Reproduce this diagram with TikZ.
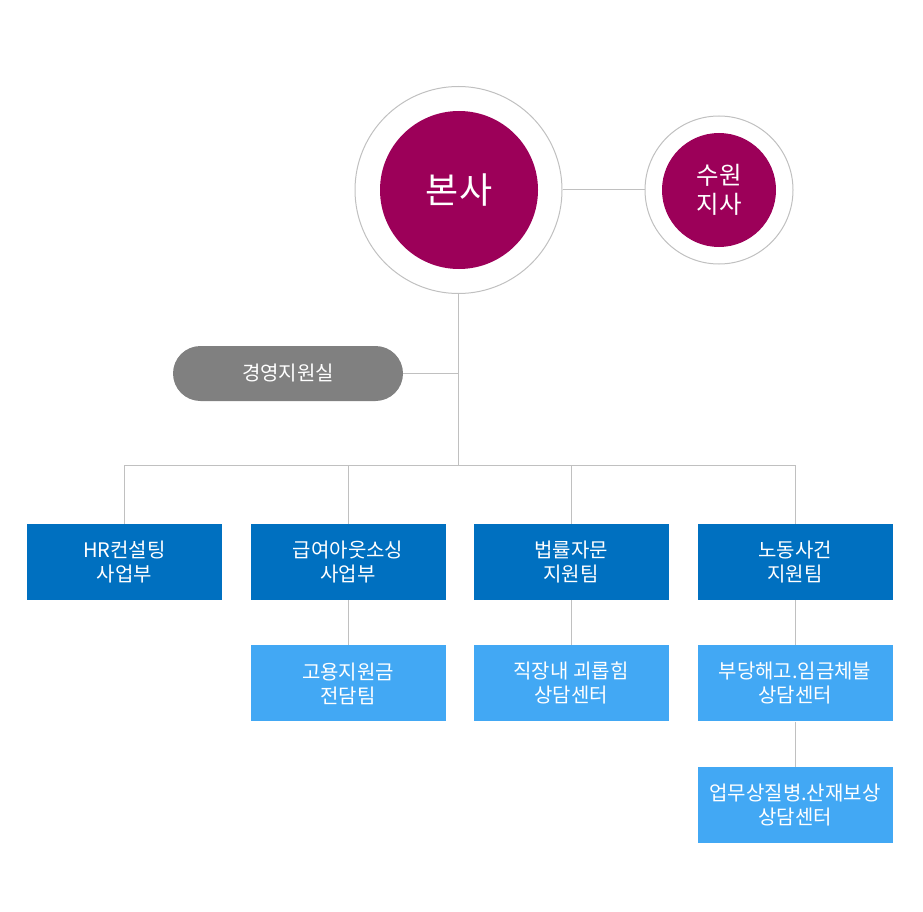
\documentclass[tikz,border=0pt]{standalone}
\usepackage{fontspec}
\setmainfont{Noto Sans CJK KR}
\usetikzlibrary{positioning}
\definecolor{hqred}{HTML}{9C0059}
\definecolor{deptblue}{HTML}{0070C0}
\definecolor{teamblue}{HTML}{42A8F4}
\definecolor{mgmtgray}{HTML}{808080}
\definecolor{linegray}{HTML}{C0C0C0}
\tikzset{
  ring/.style={circle,draw=linegray,line width=1pt,inner sep=0pt},
  disc/.style={circle,fill=hqred,text=white,inner sep=0pt,align=center},
  dept/.style={fill=deptblue,text=white,minimum width=195pt,minimum height=76pt,
    inner sep=0pt,align=center,font=\fontsize{20}{24}\selectfont},
  team/.style={dept,fill=teamblue},
  conn/.style={draw=linegray,line width=1pt}
}
\begin{document}
\begin{tikzpicture}[x=1pt,y=-1pt]
		\useasboundingbox (0,0) rectangle (923,912);
		% head office and branch
		\node[ring,minimum size=207pt] (HQring) at (458.5,190) {};
		\node[disc,minimum size=158pt,font=\fontsize{36}{40}\selectfont] (HQ) at (459,190) {본사};
		\node[ring,minimum size=148pt] (SWring) at (719,190) {};
		\node[disc,minimum size=114pt,font=\fontsize{24.5}{29}\selectfont] (SW) at (719,190) {수원\\지사};
		\draw[conn] (HQring.east) -- (SWring.west);
		% management office
		\node[rounded corners=27.5pt,fill=mgmtgray,text=white,minimum width=230pt,minimum height=55pt,
		  font=\fontsize{20}{24}\selectfont] (MS) at (288,373.5) {경영지원실};
		\coordinate (T) at (458.5,465);
		\draw[conn] (HQring.south) -- (T);
		\draw[conn] (MS.east) -- (MS.east -| T);
		% departments
		\node[dept] (HR) at (124.5,562) {HR컨설팅\\사업부};
		\node[dept] (PA) at (348,562) {급여아웃소싱\\사업부};
		\node[dept] (LC) at (571,562) {법률자문\\지원팀};
		\node[dept] (LA) at (795,562) {노동사건\\지원팀};
		\draw[conn] (HR.north) -- (HR.north |- T) -- (LA.north |- T) -- (LA.north);
		\foreach \d in {PA,LC}
			\draw[conn] (\d.north) -- (\d.north |- T);
		% teams
		\node[team,below=45pt of PA] (GS) {고용지원금\\전담팀};
		\node[team,below=45pt of LC] (WH) {직장내 괴롭힘\\상담센터};
		\node[team,below=45pt of LA] (UD) {부당해고.임금체불\\상담센터};
		\node[team,below=45pt of UD] (IC) {업무상질병.산재보상\\상담센터};
		\draw[conn] (PA) -- (GS);
		\draw[conn] (LC) -- (WH);
		\draw[conn] (LA) -- (UD);
		\draw[conn] (UD) -- (IC);
	\end{tikzpicture}
\end{document}
